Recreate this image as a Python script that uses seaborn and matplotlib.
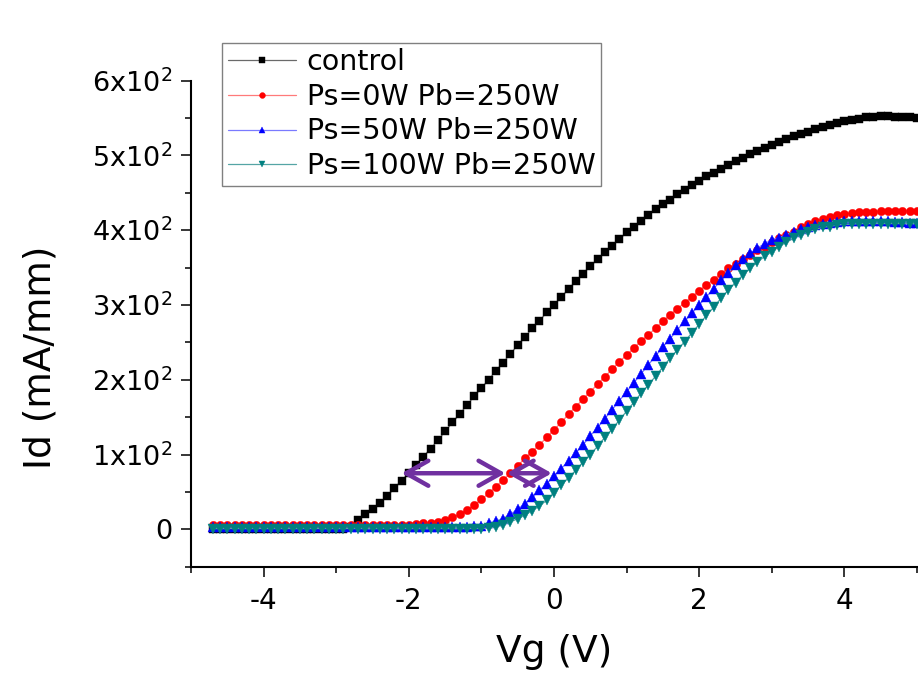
import numpy as np
import pandas as pd
import matplotlib
matplotlib.use("Agg")
import matplotlib.pyplot as plt
import seaborn as sns
from matplotlib.ticker import FixedLocator, FixedFormatter

sns.set_theme(style="white")
plt.rcParams['font.family'] = ['DejaVu Sans']
plt.rcParams['mathtext.default'] = 'regular'

# ---------------- data ----------------
vg = np.round(np.arange(-4.7, 5.0001, 0.1), 1)

control = [0, 0, 0, 0, 0, 0, 0, 0, 0, 0,
           0, 0, 0, 0, 0, 0, 0, 0, 0, 3,
           12, 20, 27, 35, 44, 55, 65, 75, 86, 97,
           108, 119, 131, 143, 154, 166, 178, 189, 200, 212,
           223, 235, 246, 257, 269, 279, 290, 300, 311, 321,
           332, 342, 352, 361, 371, 379, 388, 397, 405, 413,
           421, 428, 435, 441, 448, 454, 461, 466, 472, 477,
           482, 487, 492, 497, 502, 506, 510, 514, 518, 522,
           526, 529, 532, 535, 538, 541, 544, 546, 548, 549,
           551, 552, 553, 553, 552, 551, 551, 550]

ps0 = [6, 6, 6, 6, 6, 6, 6, 6, 6, 6,
       6, 6, 6, 6, 6, 6, 6, 6, 6, 6,
       6, 6, 6, 6, 6, 6, 6, 6, 7, 8,
       9, 10, 12, 16, 20, 26, 32, 40, 48, 57,
       66, 75, 85, 95, 104, 113, 123, 133, 143, 154,
       164, 174, 184, 194, 204, 214, 224, 233, 242, 252,
       260, 269, 278, 287, 295, 303, 311, 319, 327, 334,
       342, 349, 355, 361, 367, 373, 378, 384, 389, 394,
       398, 404, 408, 412, 415, 418, 420, 422, 423, 424,
       425, 425, 426, 426, 426, 426, 426, 426]

ps50 = [3, 3, 3, 3, 3, 3, 3, 3, 3, 3,
        3, 3, 3, 3, 3, 3, 3, 3, 3, 3,
        3, 3, 3, 3, 3, 3, 3, 3, 3, 3,
        3, 3, 3, 3, 3, 3, 4, 5, 8, 11,
        14, 20, 27, 34, 43, 52, 61, 71, 81, 92,
        102, 113, 125, 136, 148, 160, 172, 184, 196, 208,
        220, 232, 244, 255, 267, 278, 289, 300, 311, 322,
        333, 343, 353, 361, 369, 376, 382, 387, 390, 394,
        398, 401, 404, 407, 409, 410, 411, 412, 412, 412,
        412, 412, 412, 412, 411, 411, 410, 410]

ps100 = [1, 1, 1, 1, 1, 1, 1, 1, 1, 1,
         1, 1, 1, 1, 1, 1, 1, 1, 1, 1,
         1, 1, 1, 1, 1, 1, 1, 1, 1, 1,
         1, 1, 1, 1, 1, 1, 1, 1, 2, 3,
         6, 10, 14, 19, 25, 31, 39, 49, 59, 69,
         79, 90, 100, 111, 123, 134, 146, 158, 170, 182,
         193, 205, 217, 229, 240, 251, 263, 274, 286, 297,
         309, 320, 330, 340, 349, 357, 365, 371, 378, 384,
         389, 394, 398, 401, 404, 405, 407, 408, 408, 409,
         409, 409, 409, 409, 409, 409, 409, 409]

series_names = ['control', 'Ps=0W Pb=250W', 'Ps=50W Pb=250W', 'Ps=100W Pb=250W']
series_values = [control, ps0, ps50, ps100]

x_ticks = [-4, -2, 0, 2, 4]
x_tick_labels = ['-4', '-2', '0', '2', '4']
y_ticks = [0, 100, 200, 300, 400, 500, 600]
y_tick_labels = ['0', '$1x10^2$', '$2x10^2$', '$3x10^2$', '$4x10^2$', '$5x10^2$', '$6x10^2$']

# shift arrows (annotation)
arrow_y = 75
arrow_spans = [(-2.1, -0.67), (-0.65, -0.03)]

# ---------------- styles ----------------
marker_colors = ['#000000', '#FF0000', '#0000FF', '#008080']
line_colors = ['#6A6A6A', '#FF7A7A', '#7A7AFF', '#55A5A5']
markers = ['s', 'o', '^', 'v']
marker_sizes = [5.4, 6.0, 7.0, 7.0]

df = pd.concat([pd.DataFrame({'Vg': vg, 'Id': vals, 'series': name})
                for name, vals in zip(series_names, series_values)], ignore_index=True)

fig = plt.figure(figsize=(9.18, 6.73), dpi=100)
ax = fig.add_axes([191 / 918, 106.3 / 673, 726 / 918, 486 / 673])

for name, mc, lc, mk, ms in zip(series_names, marker_colors, line_colors, markers, marker_sizes):
    sub = df[df['series'] == name]
    sns.lineplot(data=sub, x='Vg', y='Id', ax=ax, color=lc, lw=0.9,
                 marker=mk, markersize=ms, markerfacecolor=mc,
                 markeredgecolor=mc, markeredgewidth=0.3,
                 label=name, estimator=None, sort=False)

for x0, x1 in arrow_spans:
    ax.annotate('', xy=(x1, arrow_y), xytext=(x0, arrow_y),
                arrowprops=dict(arrowstyle='<->,head_length=1.6,head_width=0.9',
                                color='#7030A0', lw=3.2, mutation_scale=10,
                                shrinkA=0, shrinkB=0))

ax.set_xlim(-5, 5)
ax.set_ylim(-50, 600)

for s in ['top', 'right']:
    ax.spines[s].set_visible(False)
for s in ['left', 'bottom']:
    ax.spines[s].set_color('black')
    ax.spines[s].set_linewidth(1.5)

ax.xaxis.set_major_locator(FixedLocator(x_ticks))
ax.xaxis.set_major_formatter(FixedFormatter(x_tick_labels))
ax.xaxis.set_minor_locator(FixedLocator([-5, -3, -1, 1, 3, 5]))
ax.yaxis.set_major_locator(FixedLocator(y_ticks))
ax.yaxis.set_major_formatter(FixedFormatter(y_tick_labels))
ax.yaxis.set_minor_locator(FixedLocator([-50, 50, 150, 250, 350, 450, 550]))

ax.tick_params(which='both', direction='out', color='black', width=1.1,
               bottom=True, left=True, top=False, right=False)
ax.tick_params(which='major', length=7.5)
ax.tick_params(which='minor', length=4.6)
ax.tick_params(axis='x', which='major', labelsize=20, pad=7, labelcolor='black')
ax.tick_params(axis='y', which='major', labelsize=19.5, pad=6, labelcolor='black')

ax.set_xlabel('Vg (V)', fontsize=27, color='black', labelpad=14)
ax.set_ylabel('Id (mA/mm)', fontsize=27, color='black')
ax.yaxis.set_label_coords((58 - 191) / 726, (566.7 - 357) / 486)

handles, labels = ax.get_legend_handles_labels()
leg = ax.legend(handles, labels, loc='upper left',
                bbox_to_anchor=(31 / 726, (566.7 - 42.7) / 486),
                fontsize=20.5, frameon=True, fancybox=False, edgecolor='#808080',
                framealpha=1, handlelength=2.4, handletextpad=0.38,
                labelspacing=0.23, borderpad=0.2, borderaxespad=0,
                markerscale=0.7, numpoints=1)
leg.get_frame().set_linewidth(1.0)
for t in leg.get_texts():
    t.set_color('black')

fig.savefig('out.png', dpi=100, facecolor='white')
